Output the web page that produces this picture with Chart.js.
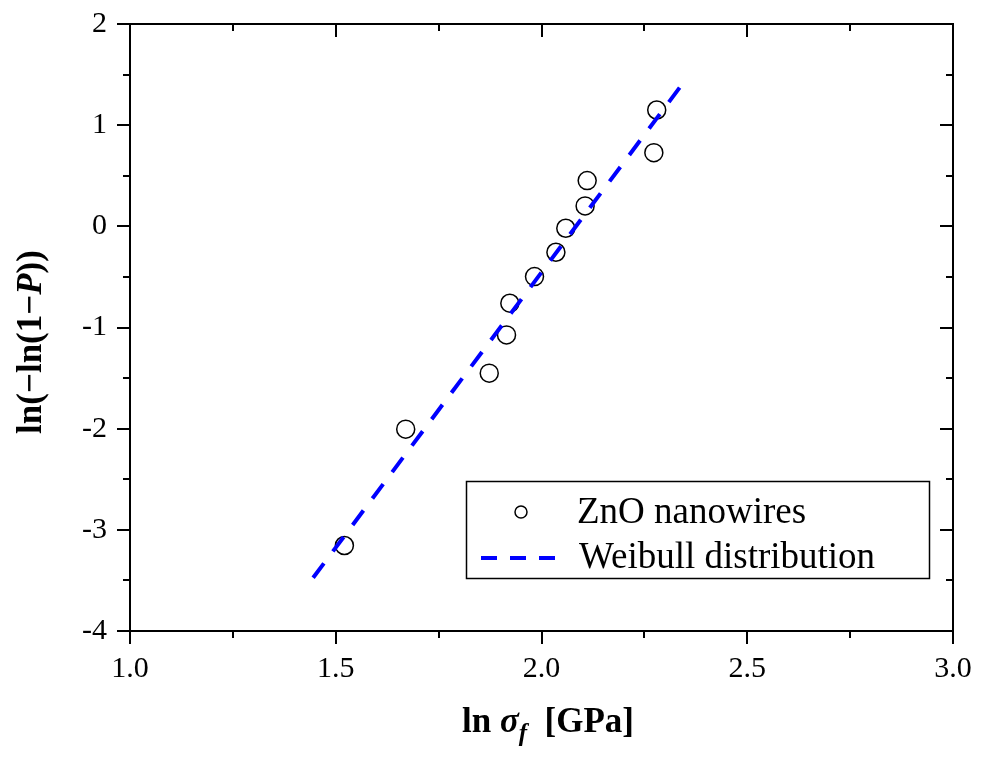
<!DOCTYPE html>
<html>
<head>
<meta charset="utf-8">
<script src="https://cdn.jsdelivr.net/npm/chart.js@4/dist/chart.umd.min.js"></script>
<style>
html,body{margin:0;padding:0;background:#fff;}
#wrap{width:981px;height:758px;}
</style>
</head>
<body>
<div id="wrap"><canvas id="c" width="981" height="758"></canvas></div>
<script>
// ---- data ----
const lnStrength = [1.521, 1.670, 1.873, 1.915, 1.923, 1.983, 2.035, 2.059, 2.106, 2.111, 2.273, 2.280];
const lnLnP      = [-3.155, -2.005, -1.451, -1.073, -0.760, -0.497, -0.256, -0.019, 0.202, 0.452, 0.728, 1.150];
const fitX = [1.445, 2.346];
const fitY = [-3.474, 1.427];
const xTicks = [1.0, 1.5, 2.0, 2.5, 3.0];
const yTicks = [-4, -3, -2, -1, 0, 1, 2];
const seriesNames = ['ZnO nanowires', 'Weibull distribution'];

const SERIF = "'Liberation Serif', 'Times New Roman', serif";

const pointsData = lnStrength.map((x, i) => ({x: x, y: lnLnP[i]}));
const fitData = fitX.map((x, i) => ({x: x, y: fitY[i]}));

function noPad(s) { s.paddingTop = 0; s.paddingBottom = 0; s.paddingLeft = 0; s.paddingRight = 0; }

const framePlugin = {
  id: 'frame',
  afterDraw(chart) {
    const ctx = chart.ctx;
    const a = chart.chartArea;
    const xs = chart.scales.x, ys = chart.scales.y;
    ctx.save();
    ctx.strokeStyle = '#000';
    ctx.lineWidth = 2;
    ctx.lineCap = 'square';
    ctx.beginPath();
    ctx.rect(a.left, a.top, a.right - a.left, a.bottom - a.top);
    ctx.stroke();
    ctx.lineCap = 'butt';
    const MAJ = 13, MIN = 7;
    ctx.beginPath();
    for (let v = 1.0; v <= 3.0001; v += 0.25) {
      const major = Math.abs(v * 2 - Math.round(v * 2)) < 1e-6;
      const L = major ? MAJ : MIN;
      const px = Math.round(xs.getPixelForValue(v));
      ctx.moveTo(px, a.bottom); ctx.lineTo(px, a.bottom + L);
      ctx.moveTo(px, a.top); ctx.lineTo(px, a.top + L);
    }
    for (let v = -4; v <= 2.0001; v += 0.5) {
      const major = Math.abs(v - Math.round(v)) < 1e-6;
      const L = major ? MAJ : MIN;
      const py = Math.round(ys.getPixelForValue(v));
      ctx.moveTo(a.left, py); ctx.lineTo(a.left - L, py);
      ctx.moveTo(a.right, py); ctx.lineTo(a.right - L, py);
    }
    ctx.stroke();

    // axis titles with mixed styles
    ctx.fillStyle = '#000';
    ctx.textBaseline = 'alphabetic';
    const xParts = [
      {t: 'ln ', f: 'bold 35px ' + SERIF, dy: 0},
      {t: 'σ', f: 'italic bold 35px ' + SERIF, dy: 0},
      {t: 'f', f: 'italic bold 25px ' + SERIF, dy: 9},
      {t: '  [GPa]', f: 'bold 35px ' + SERIF, dy: 0}
    ];
    let tw = 0;
    xParts.forEach(p => { ctx.font = p.f; p.w = ctx.measureText(p.t).width; tw += p.w; });
    let cx = 548 - tw / 2;
    xParts.forEach(p => { ctx.font = p.f; ctx.fillText(p.t, cx, 732 + p.dy); cx += p.w; });

    const yParts = [
      {t: 'ln(\u2212ln(1\u2212', f: 'bold 35px ' + SERIF},
      {t: 'P', f: 'italic bold 35px ' + SERIF},
      {t: '))', f: 'bold 35px ' + SERIF}
    ];
    tw = 0;
    yParts.forEach(p => { ctx.font = p.f; p.w = ctx.measureText(p.t).width; tw += p.w; });
    ctx.save();
    ctx.translate(41, 342);
    ctx.rotate(-Math.PI / 2);
    let cy = -tw / 2;
    yParts.forEach(p => { ctx.font = p.f; ctx.fillText(p.t, cy, 0); cy += p.w; });
    ctx.restore();

    // legend
    ctx.lineWidth = 1.5;
    ctx.strokeStyle = '#000';
    ctx.strokeRect(466.5, 481.5, 463, 97);
    ctx.beginPath();
    ctx.arc(521, 512, 6, 0, Math.PI * 2);
    ctx.stroke();
    ctx.font = '37px ' + SERIF;
    ctx.fillText(seriesNames[0], 577, 523);
    ctx.strokeStyle = '#0000ff';
    ctx.lineWidth = 4;
    ctx.setLineDash([16, 13]);
    ctx.beginPath();
    ctx.moveTo(481, 558); ctx.lineTo(557, 558);
    ctx.stroke();
    ctx.setLineDash([]);
    ctx.fillText(seriesNames[1], 579, 568);
    ctx.restore();
  }
};

new Chart(document.getElementById('c'), {
  type: 'scatter',
  data: {
    datasets: [
      {
        label: seriesNames[0],
        data: pointsData,
        pointRadius: 9,
        pointHoverRadius: 9,
        pointBorderWidth: 1.5,
        pointBorderColor: '#000',
        pointBackgroundColor: 'rgba(0,0,0,0)',
        showLine: false,
        order: 1
      },
      {
        label: seriesNames[1],
        data: fitData,
        showLine: true,
        pointRadius: 0,
        borderColor: '#0000ff',
        borderWidth: 4,
        borderDash: [18, 15],
        fill: false,
        order: 0
      }
    ]
  },
  options: {
    responsive: false,
    devicePixelRatio: 1,
    animation: false,
    layout: {padding: {top: 24, right: 28, left: 0, bottom: 0}},
    plugins: {legend: {display: false}, tooltip: {enabled: false}},
    scales: {
      x: {
        type: 'linear', min: 1, max: 3,
        afterFit(s) { s.height = 127; noPad(s); },
        afterBuildTicks(s) { s.ticks = xTicks.map(v => ({value: v})); },
        ticks: {
          callback: v => v.toFixed(1),
          color: '#000', font: {family: SERIF, size: 30}, padding: 20, maxRotation: 0
        },
        grid: {display: false, drawTicks: false},
        border: {display: false},
        title: {display: false}
      },
      y: {
        type: 'linear', min: -4, max: 2,
        afterFit(s) { s.width = 130; noPad(s); },
        afterBuildTicks(s) { s.ticks = yTicks.map(v => ({value: v})); },
        ticks: {
          callback: v => String(v),
          color: '#000', font: {family: SERIF, size: 30}, padding: 23
        },
        grid: {display: false, drawTicks: false},
        border: {display: false},
        title: {display: false}
      }
    }
  },
  plugins: [framePlugin]
});
</script>
</body>
</html>
